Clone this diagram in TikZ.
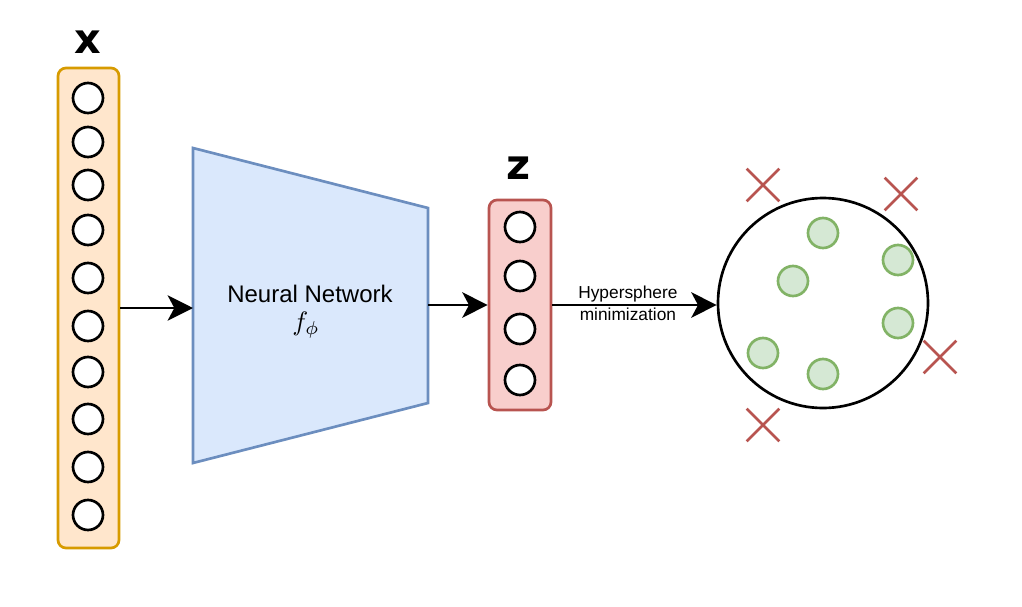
\documentclass[tikz,border=0pt]{standalone}
\usepackage{fontspec}
\setmainfont{Liberation Sans}
\newfontfamily\heavyfont{DejaVu Sans}
\usetikzlibrary{positioning,arrows.meta,shapes.misc}
\definecolor{inline}{HTML}{D79B00}
\definecolor{infill}{HTML}{FFE6CC}
\definecolor{netline}{HTML}{6C8EBF}
\definecolor{netfill}{HTML}{DAE8FC}
\definecolor{latline}{HTML}{B85450}
\definecolor{latfill}{HTML}{F8CECC}
\definecolor{okline}{HTML}{82B366}
\definecolor{okfill}{HTML}{D5E8D4}
\tikzset{
  >={Stealth[length=19pt,width=19pt,inset=5pt]},
  my neuron/.style={
    draw,
    circle,
    fill=white,
    minimum size=22.5pt,
    inner sep=0pt
  },
  my layer/.style={
    draw,
    rectangle,
    rounded corners=6pt,
    inner sep=0pt
  },
  my inlier/.style={my neuron,draw=okline,fill=okfill},
  my outlier/.style={
    draw=latline,
    cross out,
    minimum size=22.5pt,
    inner sep=0pt
  },
  my letter/.style={font=\heavyfont\bfseries\fontsize{31pt}{31pt}\selectfont},
  my diagram/.style={
    x=0.75pt,
    y=-0.75pt,
    line width=2pt
  }
}

\begin{document}
\begin{tikzpicture}[my diagram]
\useasboundingbox (0,0) rectangle (1022,607);
% input layer
\node[my layer,draw=inline,fill=infill,minimum width=45.75pt,minimum height=360pt] (xbox) at (88.5,308) {};
\foreach \i/\y in {1/98,2/142,3/185,4/230,5/278,6/326,7/372,8/419,9/467,10/515}
  \node[my neuron] (x\i) at (88,\y) {};
\node[my letter] (xlabel) at (88,42) {x};
% network
\coordinate (nn-tl) at (193,148);
\coordinate (nn-tr) at (428,208);
\coordinate (nn-br) at (428,403);
\coordinate (nn-bl) at (193,463);
\coordinate (nn-in) at (193,308);
\coordinate (nn-out) at (428,305);
\draw[draw=netline,fill=netfill] (nn-tl) -- (nn-tr) -- (nn-br) -- (nn-bl) -- cycle;
\node[font=\fontsize{18pt}{20pt}\selectfont,inner sep=0pt] (nn) at (310,294) {Neural Network};
\node[inner sep=0pt,scale=2] (fphi) at (306,325) {$f_\phi$};
% latent layer
\node[my layer,draw=latline,fill=latfill,minimum width=46.5pt,minimum height=157.5pt] (zbox) at (520,305) {};
\foreach \i/\y in {1/227,2/276,3/329,4/380}
  \node[my neuron] (z\i) at (520,\y) {};
\node[my letter] (zlabel) at (519,168) {z};
% hypersphere
\node[my neuron,minimum size=157.5pt] (sphere) at (823,303) {};
\node[my inlier] (in1) at (823,233) {};
\node[my inlier] (in2) at (898,260) {};
\node[my inlier] (in3) at (793,281) {};
\node[my inlier] (in4) at (898,323) {};
\node[my inlier] (in5) at (763,353) {};
\node[my inlier] (in6) at (823,374) {};
\node[my outlier] (out1) at (763,185) {};
\node[my outlier] (out2) at (901,194) {};
\node[my outlier] (out3) at (940,357) {};
\node[my outlier] (out4) at (763,425) {};
% connectors
\draw[->] (xbox.east) -- (nn-in);
\draw[->] (nn-out) -- (zbox.west);
\draw[->] (zbox.east) -- (zbox.east -| sphere.west)
  node[pos=0.46,above,font=\fontsize{13pt}{15pt}\selectfont,inner sep=1.5pt] {Hypersphere}
  node[pos=0.46,below,font=\fontsize{13pt}{15pt}\selectfont,inner sep=1.5pt] {minimization};
\end{tikzpicture}
\end{document}
